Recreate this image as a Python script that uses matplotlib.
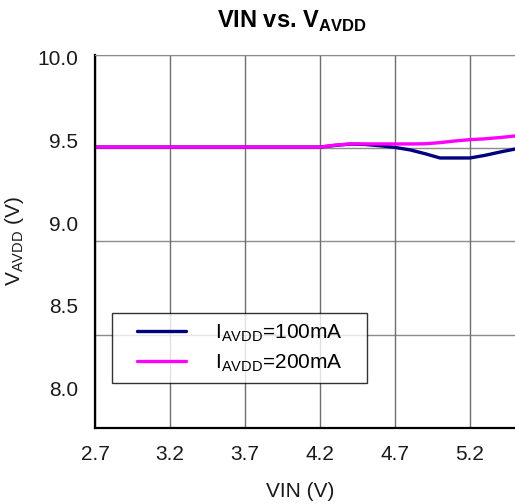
import matplotlib
matplotlib.use("Agg")
import matplotlib.pyplot as plt
from matplotlib.legend_handler import HandlerLine2D

plt.rcParams["font.family"] = ["Liberation Sans", "DejaVu Sans"]
plt.rcParams["mathtext.fontset"] = "custom"
plt.rcParams["mathtext.rm"] = "Liberation Sans"

# --- data ----------------------------------------------------------------------
vin = [2.7, 2.8, 2.9, 3.0, 3.1, 3.2, 3.3, 3.4, 3.5, 3.6, 3.7, 3.8, 3.9, 4.0,
       4.1, 4.2, 4.3, 4.4, 4.5, 4.6, 4.7, 4.8, 4.9, 5.0, 5.1, 5.2, 5.3, 5.4, 5.5]
vavdd_100ma = [9.46, 9.46, 9.46, 9.46, 9.46, 9.46, 9.46, 9.46, 9.46, 9.46,
               9.46, 9.46, 9.46, 9.46, 9.46, 9.46, 9.47, 9.478, 9.476, 9.468,
               9.458, 9.443, 9.42, 9.394, 9.394, 9.394, 9.41, 9.43, 9.448]
vavdd_200ma = [9.46, 9.46, 9.46, 9.46, 9.46, 9.46, 9.46, 9.46, 9.46, 9.46,
               9.46, 9.46, 9.46, 9.46, 9.46, 9.46, 9.472, 9.479, 9.479, 9.479,
               9.479, 9.479, 9.48, 9.487, 9.497, 9.505, 9.51, 9.518, 9.527]

x_ticks = [2.7, 3.2, 3.7, 4.2, 4.7, 5.2]
y_ticks = [8.0, 8.5, 9.0, 9.5, 10.0]
labels = ["I$_{\\mathregular{AVDD}}$=100mA", "I$_{\\mathregular{AVDD}}$=200mA"]

FS = 15

# --- figure --------------------------------------------------------------------
fig = plt.figure(figsize=(5.15, 5.04), dpi=100)
ax = fig.add_axes([0.1845, 0.1508, 0.8155, 0.7401])

# grid axis (evenly spaced horizontal gridlines, drawn behind the data)
axg = ax.twinx()
axg.set_ylim(8.0, 10.0)
axg.set_yticks(y_ticks)
axg.tick_params(axis="y", right=False, labelright=False)
axg.grid(axis="y", color="#8c8c8c", linewidth=1.0)
for s in axg.spines.values():
    s.set_visible(False)
axg.set_zorder(ax.get_zorder() - 1)
ax.patch.set_visible(False)

ax.plot(vin, vavdd_100ma, color="#000080", linewidth=2.4, label=labels[0],
        solid_capstyle="round")
ax.plot(vin, vavdd_200ma, color="#ff00ff", linewidth=2.4, label=labels[1],
        solid_capstyle="round")

ax.set_xlim(2.7, 5.5)
ax.set_ylim(7.758, 10.018)
ax.set_xticks(x_ticks)
ax.set_xticklabels([f"{t:.1f}" for t in x_ticks])
ax.set_yticks(y_ticks)
ax.set_yticklabels([f"{t:.1f}" for t in y_ticks])
ax.tick_params(axis="both", length=0, labelsize=FS, colors="#1a1a1a")
ax.tick_params(axis="x", pad=12)
ax.tick_params(axis="y", pad=12)
ax.grid(axis="x", color="#6e6e6e", linewidth=1.0)

ax.spines["right"].set_visible(False)
ax.spines["top"].set_color("#8c8c8c")
ax.spines["left"].set_linewidth(1.6)
ax.spines["bottom"].set_linewidth(1.6)

ax.set_xlabel("VIN (V)", fontsize=FS, color="#1a1a1a")
ax.xaxis.set_label_coords(0.488, -0.145)
ax.set_ylabel("V$_{\\mathregular{AVDD}}$ (V)", fontsize=FS, color="#1a1a1a")
ax.yaxis.set_label_coords(-0.165, 0.5)

fig.suptitle("VIN vs. V$_{\\mathregular{AVDD}}$", fontsize=17, fontweight="bold",
             x=0.567, y=0.982)

leg = ax.legend(loc="upper left", bbox_to_anchor=(0.0405, 0.0, 0.607, 0.308),
                mode="expand", borderaxespad=0,
                fontsize=FS, frameon=True, fancybox=False, edgecolor="black",
                handlelength=3.1, handletextpad=1.4, borderpad=0.45,
                labelspacing=0.4,
                handler_map={plt.Line2D: HandlerLine2D(xpad=0.75)})
leg.get_frame().set_linewidth(1.0)

fig.savefig("out.png", dpi=100)
